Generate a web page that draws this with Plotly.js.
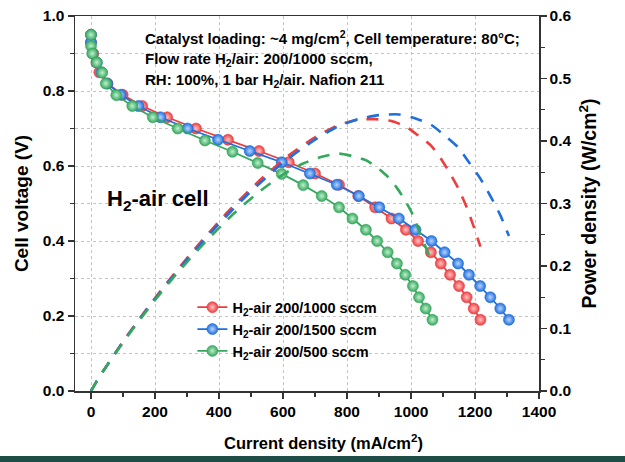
<!DOCTYPE html>
<html>
<head>
<meta charset="utf-8">
<script src="https://cdn.plot.ly/plotly-3.0.1.min.js"></script>
<style>
  html, body { margin: 0; padding: 0; background: #ffffff; }
  #chart { width: 625px; height: 462px; }
</style>
</head>
<body>
<div id="chart"></div>
<script>
// Current density (mA/cm2)
const current1000 = [0, 0, 7, 17, 26, 51, 99, 160, 238, 328, 428, 525, 618, 700, 775, 835, 888, 939, 984, 1022, 1062, 1093, 1122, 1150, 1174, 1196, 1217];
const current1500 = [0, 0, 5, 18, 33, 51, 93, 148, 217, 302, 397, 496, 596, 684, 768, 837, 901, 962, 1014, 1064, 1105, 1147, 1181, 1216, 1248, 1279, 1306];
const current500  = [0, 0, 4, 18, 35, 46, 79, 129, 193, 271, 356, 442, 521, 596, 663, 721, 775, 817, 859, 894, 927, 956, 982, 1006, 1025, 1046, 1067];

// Cell voltage (V)
const voltage1000 = [0.95, 0.93, 0.90, 0.876, 0.85, 0.82, 0.79, 0.76, 0.73, 0.70, 0.67, 0.64, 0.61, 0.58, 0.55, 0.52, 0.49, 0.46, 0.43, 0.40, 0.37, 0.34, 0.31, 0.28, 0.25, 0.22, 0.19];
const voltage1500 = [0.95, 0.93, 0.90, 0.876, 0.85, 0.82, 0.79, 0.76, 0.73, 0.70, 0.67, 0.64, 0.61, 0.58, 0.55, 0.52, 0.49, 0.46, 0.43, 0.40, 0.37, 0.34, 0.31, 0.28, 0.25, 0.22, 0.19];
const voltage500  = [0.95, 0.92, 0.90, 0.876, 0.849, 0.82, 0.789, 0.76, 0.73, 0.70, 0.668, 0.638, 0.608, 0.579, 0.549, 0.52, 0.49, 0.46, 0.43, 0.40, 0.37, 0.34, 0.31, 0.28, 0.25, 0.22, 0.19];

// Power density (W/cm2)
const power1000 = [0, 0, 0.0063, 0.0149, 0.0221, 0.0418, 0.0782, 0.1216, 0.1737, 0.2296, 0.2868, 0.336, 0.377, 0.406, 0.426, 0.434, 0.435, 0.432, 0.423, 0.409, 0.393, 0.372, 0.348, 0.322, 0.294, 0.263, 0.231];
const power1500 = [0, 0, 0.0045, 0.0158, 0.0281, 0.0418, 0.0735, 0.1125, 0.1584, 0.2114, 0.266, 0.3174, 0.3636, 0.3967, 0.4224, 0.4352, 0.4415, 0.4425, 0.436, 0.4256, 0.4089, 0.39, 0.3661, 0.3405, 0.312, 0.2814, 0.2481];
const power500  = [0, 0, 0.0036, 0.0158, 0.0297, 0.0377, 0.0623, 0.098, 0.1409, 0.1897, 0.2378, 0.282, 0.3168, 0.3451, 0.364, 0.3749, 0.3798, 0.3758, 0.3694, 0.3576, 0.343, 0.325, 0.3044, 0.2817, 0.2563, 0.2301, 0.2027];

const seriesNames = ['H<sub>2</sub>-air 200/1000 sccm', 'H<sub>2</sub>-air 200/1500 sccm', 'H<sub>2</sub>-air 200/500 sccm'];
const xTicks = [0, 200, 400, 600, 800, 1000, 1200, 1400];
const xTickLabels = ['0', '200', '400', '600', '800', '1000', '1200', '1400'];
const yTicks = [0, 0.2, 0.4, 0.6, 0.8, 1.0];
const yTickLabels = ['0.0', '0.2', '0.4', '0.6', '0.8', '1.0'];
const y2Ticks = [0, 0.1, 0.2, 0.3, 0.4, 0.5, 0.6];
const y2TickLabels = ['0.0', '0.1', '0.2', '0.3', '0.4', '0.5', '0.6'];

const RED = '#ec3d3f', BLUE = '#1f6fdc', GREEN = '#35a85c';
const LIGHT = ['#ffc4c4', '#b8d4ff', '#c0efd0'];
const FONT = 'Arial, "Liberation Sans", sans-serif';
const b = s => '<b>' + s + '</b>';

function pol(x, y, name, color, light) {
  return {
    x: x, y: y, name: b(name), type: 'scatter', mode: 'lines+markers',
    xaxis: 'x', yaxis: 'y',
    line: {color: color, width: 1.8},
    marker: {size: 11, color: color, line: {color: color, width: 0.6},
             gradient: {type: 'radial', color: light}}
  };
}
function pw(x, y, color) {
  return {
    x: x, y: y, type: 'scatter', mode: 'lines', showlegend: false,
    xaxis: 'x', yaxis: 'y2',
    line: {color: color, width: 2.6, dash: '12px,10px', shape: 'spline', smoothing: 0.6},
    hoverinfo: 'skip'
  };
}

const data = [
  pol(current1000, voltage1000, seriesNames[0], RED, LIGHT[0]),
  pol(current1500, voltage1500, seriesNames[1], BLUE, LIGHT[1]),
  pol(current500, voltage500, seriesNames[2], GREEN, LIGHT[2]),
  pw(current1000, power1000, RED),
  pw(current1500, power1500, BLUE),
  pw(current500, power500, GREEN)
];

const axisLine = '#333333';
const tickFont = {family: FONT, size: 15.5, color: '#000'};

const layout = {
  width: 625, height: 462,
  margin: {l: 75, r: 86, t: 16, b: 71},
  paper_bgcolor: '#ffffff', plot_bgcolor: '#ffffff',
  font: {family: FONT, color: '#000'},
  showlegend: true,
  legend: {
    x: 0.253, y: 0.266, xanchor: 'left', yanchor: 'top',
    bgcolor: 'rgba(0,0,0,0)', borderwidth: 0,
    font: {family: FONT, size: 14.5, color: '#000'},
    tracegroupgap: 0, itemwidth: 30
  },
  xaxis: {
    range: [-50, 1400], tickvals: xTicks, ticktext: xTickLabels.map(b),
    showline: true, linecolor: axisLine, linewidth: 1.5, mirror: true,
    ticks: 'outside', ticklen: 6, tickwidth: 1.5, tickcolor: axisLine,
    showgrid: true, gridcolor: '#c4c4c4', griddash: 'dot', gridwidth: 1,
    zeroline: false,
    minor: {dtick: 100, tick0: 0, ticks: 'outside', ticklen: 4, tickwidth: 1.2, tickcolor: axisLine, showgrid: false},
    tickfont: tickFont
  },
  yaxis: {
    range: [0, 1.0], tickvals: yTicks, ticktext: yTickLabels.map(b),
    showline: true, linecolor: axisLine, linewidth: 1.5,
    ticks: 'outside', ticklen: 6, tickwidth: 1.5, tickcolor: axisLine,
    showgrid: true, gridcolor: '#c4c4c4', griddash: 'dot', gridwidth: 1,
    zeroline: false,
    minor: {dtick: 0.1, tick0: 0, ticks: 'outside', ticklen: 4, tickwidth: 1.2, tickcolor: axisLine,
            showgrid: true, gridcolor: '#c4c4c4', griddash: 'dot', gridwidth: 1},
    tickfont: tickFont,
    title: {text: b('Cell voltage (V)'), font: {family: FONT, size: 19, color: '#000'}, standoff: 9}
  },
  yaxis2: {
    range: [0, 0.6], tickvals: y2Ticks, ticktext: y2TickLabels.map(b),
    overlaying: 'y', side: 'right',
    showline: true, linecolor: axisLine, linewidth: 1.5,
    ticks: 'outside', ticklen: 6, tickwidth: 1.5, tickcolor: axisLine,
    showgrid: false, zeroline: false,
    minor: {dtick: 0.05, tick0: 0, ticks: 'outside', ticklen: 4, tickwidth: 1.2, tickcolor: axisLine, showgrid: false},
    tickfont: tickFont,
    title: {text: b('Power density (W/cm<sup>2</sup>)'), font: {family: FONT, size: 19.5, color: '#000'}, standoff: 12}
  },
  annotations: [
    {xref: 'paper', yref: 'paper', x: 0.535, y: -0.136, xanchor: 'center', yanchor: 'middle', showarrow: false,
     text: b('Current density (mA/cm<sup>2</sup>)'),
     font: {family: FONT, size: 16.5, color: '#000'}},
    {xref: 'paper', yref: 'paper', x: 0.147, y: 0.942, xanchor: 'left', yanchor: 'middle', showarrow: false, align: 'left',
     text: b('Catalyst loading: ~4 mg/cm<sup>2</sup>, Cell temperature: 80°C;'),
     font: {family: FONT, size: 15, color: '#000'}},
    {xref: 'paper', yref: 'paper', x: 0.147, y: 0.884, xanchor: 'left', yanchor: 'middle', showarrow: false, align: 'left',
     text: b('Flow rate H<sub>2</sub>/air: 200/1000 sccm,'),
     font: {family: FONT, size: 15, color: '#000'}},
    {xref: 'paper', yref: 'paper', x: 0.147, y: 0.829, xanchor: 'left', yanchor: 'middle', showarrow: false, align: 'left',
     text: b('RH: 100%, 1 bar H<sub>2</sub>/air. Nafion 211'),
     font: {family: FONT, size: 15, color: '#000'}},
    {xref: 'paper', yref: 'paper', x: 0.064, y: 0.51, xanchor: 'left', yanchor: 'middle', showarrow: false, align: 'left',
     text: b('H<sub>2</sub>-air cell'),
     font: {family: FONT, size: 22, color: '#000'}}
  ],
  shapes: [
    {type: 'rect', xref: 'paper', yref: 'paper', x0: -0.17, x1: 1.2, y0: -0.19, y1: -0.1735,
     fillcolor: '#1e4d48', line: {width: 0}, layer: 'above'}
  ]
};

Plotly.newPlot('chart', data, layout, {displayModeBar: false, staticPlot: true});
</script>
</body>
</html>
